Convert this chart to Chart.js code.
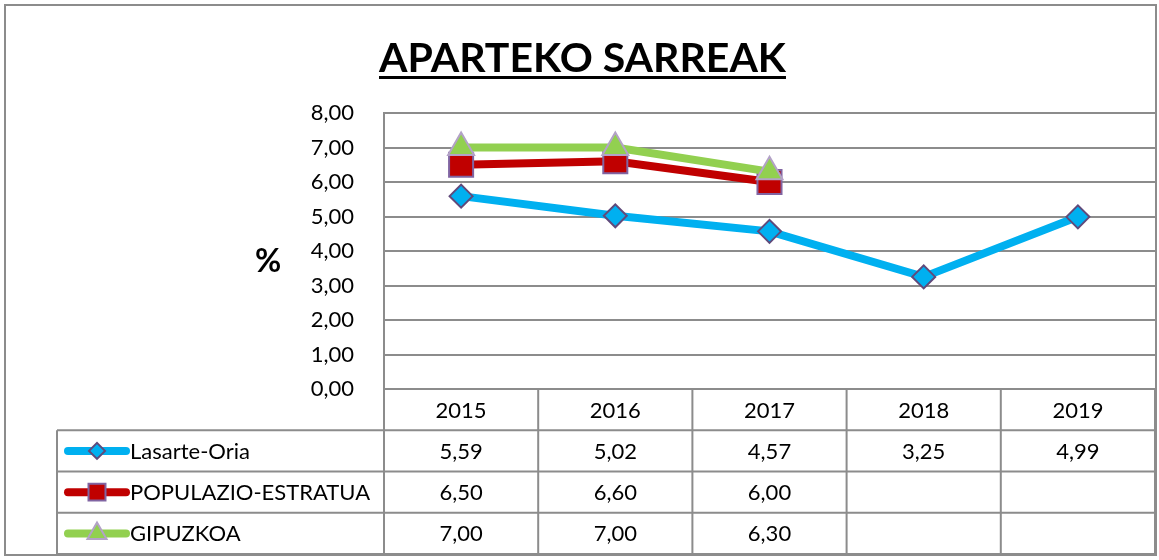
<!DOCTYPE html>
<html>
<head>
<meta charset="utf-8">
<script src="https://cdn.jsdelivr.net/npm/chart.js@4"></script>
<style>
  html, body { margin: 0; padding: 0; background: #fff; }
  canvas { display: block; }
</style>
</head>
<body>
<canvas id="grafico" width="1159" height="560"></canvas>
<script>
// datos
const years = ['2015', '2016', '2017', '2018', '2019'];
const lasarte = [5.59, 5.02, 4.57, 3.25, 4.99];
const populazio = [6.50, 6.60, 6.00, null, null];
const gipuzkoa = [7.00, 7.00, 6.30, null, null];
const yTicks = [0, 1, 2, 3, 4, 5, 6, 7, 8];

const FONT = 'Lato, "Open Sans", sans-serif';
const GRIS = '#8c8c8c';
const fmt = v => v.toFixed(2).replace('.', ',');

const series = [
  { label: 'Lasarte-Oria', data: lasarte, color: '#00B0F0', border: '#604A7B', style: 'rectRot', radius: 11.5, keyRadius: 8, order: 2 },
  { label: 'POPULAZIO-ESTRATUA', data: populazio, color: '#C00000', border: '#8064A2', style: 'rect', radius: 17, keyRadius: 12, order: 1 },
  { label: 'GIPUZKOA', data: gipuzkoa, color: '#92D050', border: '#B3A2C7', style: 'triangle', radius: 15, keyRadius: 11, order: 0 }
];

// marco, título, "%" y tabla de datos
const extras = {
  id: 'extras',
  beforeDraw(chart) {
    const ctx = chart.ctx;
    ctx.save();
    ctx.strokeStyle = GRIS;
    ctx.lineWidth = 2;
    ctx.strokeRect(5, 5, chart.width - 8, chart.height - 10);
    ctx.restore();
  },
  afterDraw(chart) {
    const ctx = chart.ctx;
    const area = chart.chartArea;
    const x = chart.scales.x;
    const colW = (area.right - area.left) / years.length;
    const rowH = 41.25;
    const top = area.bottom;

    ctx.save();
    // título subrayado
    ctx.font = 'bold 41px ' + FONT;
    ctx.fillStyle = '#000';
    ctx.textAlign = 'center';
    ctx.textBaseline = 'alphabetic';
    const titulo = 'APARTEKO SARREAK';
    const tx = chart.width / 2 + 3;
    ctx.fillText(titulo, tx, 72);
    const tw = ctx.measureText(titulo).width;
    ctx.fillRect(tx - tw / 2, 76, tw, 3);

    // etiqueta del eje
    ctx.font = 'bold 32px ' + FONT;
    ctx.textBaseline = 'middle';
    ctx.fillText('%', 268, 262);

    // líneas de la tabla
    ctx.strokeStyle = GRIS;
    ctx.lineWidth = 2;
    ctx.beginPath();
    for (let r = 1; r <= 4; r++) {
      const yy = top + r * rowH;
      ctx.moveTo(57, yy);
      ctx.lineTo(area.right, yy);
    }
    ctx.moveTo(57, top + rowH);
    ctx.lineTo(57, top + 4 * rowH);
    for (let i = 0; i <= years.length; i++) {
      const xx = area.left + i * colW;
      ctx.moveTo(xx, top);
      ctx.lineTo(xx, top + 4 * rowH);
    }
    ctx.stroke();

    // cabecera y valores
    ctx.font = '22px ' + FONT;
    ctx.fillStyle = '#000';
    ctx.textAlign = 'center';
    ctx.textBaseline = 'middle';
    years.forEach((yr, i) => {
      const cx = x.getPixelForValue(i);
      ctx.fillText(yr, cx, top + rowH / 2 + 1);
      series.forEach((s, j) => {
        const v = s.data[i];
        if (v !== null) ctx.fillText(fmt(v), cx, top + (j + 1.5) * rowH + 1);
      });
    });

    // leyenda dentro de la tabla
    series.forEach((s, j) => {
      const cy = top + (j + 1.5) * rowH;
      ctx.strokeStyle = s.color;
      ctx.lineWidth = 8;
      ctx.lineCap = 'round';
      ctx.beginPath();
      ctx.moveTo(68, cy);
      ctx.lineTo(126, cy);
      ctx.stroke();
      ctx.fillStyle = s.color;
      ctx.strokeStyle = s.border;
      ctx.lineWidth = 2;
      Chart.helpers.drawPoint(ctx, { pointStyle: s.style, radius: s.keyRadius, rotation: 0, borderWidth: 2 }, 97, cy);
      ctx.fillStyle = '#000';
      ctx.textAlign = 'left';
      ctx.fillText(s.label, 130, cy + 1);
    });
    ctx.restore();
  }
};

new Chart(document.getElementById('grafico'), {
  type: 'line',
  data: {
    labels: years,
    datasets: series.map(s => ({
      label: s.label,
      data: s.data,
      order: s.order,
      borderColor: s.color,
      backgroundColor: s.color,
      borderWidth: 8,
      pointStyle: s.style,
      pointRadius: s.radius,
      pointBackgroundColor: s.color,
      pointBorderColor: s.border,
      pointBorderWidth: 2,
      tension: 0,
      fill: false
    }))
  },
  options: {
    responsive: false,
    devicePixelRatio: 1,
    animation: false,
    layout: { autoPadding: false, padding: { left: 0, right: 4, top: 113, bottom: 0 } },
    plugins: {
      legend: { display: false },
      tooltip: { enabled: false },
      title: { display: false }
    },
    scales: {
      x: {
        offset: true,
        grid: { display: false, drawTicks: false },
        border: { display: true, color: GRIS, width: 2 },
        ticks: { display: false },
        afterFit: scale => { scale.height = 171; }
      },
      y: {
        min: 0, max: 8,
        afterBuildTicks: scale => { scale.ticks = yTicks.map(v => ({ value: v })); },
        grid: { color: GRIS, lineWidth: 2, drawTicks: false },
        border: { display: true, color: GRIS, width: 2 },
        ticks: {
          padding: 30,
          color: '#000',
          font: { family: FONT, size: 22 },
          callback: v => fmt(v)
        },
        afterFit: scale => { scale.width = 384; }
      }
    }
  },
  plugins: [extras]
});
</script>
</body>
</html>
